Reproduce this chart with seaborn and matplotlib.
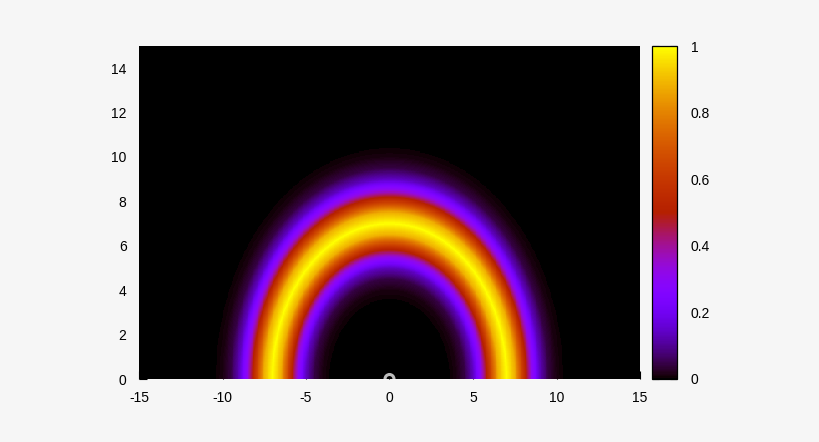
import numpy as np
import pandas as pd
import seaborn as sns
import matplotlib.pyplot as plt

# plot window
x_min, x_max = -15, 15
y_min, y_max = 0, 15
x_ticks = [-15, -10, -5, 0, 5, 10, 15]
y_ticks = [0, 2, 4, 6, 8, 10, 12, 14]
cbar_ticks = [0, 0.2, 0.4, 0.6, 0.8, 1]
cbar_labels = ['0', '0.2', '0.4', '0.6', '0.8', '1']

# radial intensity profile (distance from origin -> value)
ring_radius = [0.0, 3.5, 4.0, 4.5, 5.0, 5.5, 6.0, 6.5, 7.0, 7.5, 8.0, 8.5, 9.0, 9.5, 10.0, 10.5, 15.0]
ring_value = [0.0, 0.002, 0.011, 0.044, 0.135, 0.325, 0.607, 0.882, 1.0,
              0.882, 0.607, 0.325, 0.135, 0.044, 0.011, 0.002, 0.0]

# source point
source_x = [0]
source_y = [0]

# --- build the grid ---
step = 0.05
xs = np.arange(x_min + step / 2, x_max, step)
ys = np.arange(y_max - step / 2, y_min, -step)
gx, gy = np.meshgrid(xs, ys)
field = np.interp(np.hypot(gx, gy), ring_radius, ring_value)
df = pd.DataFrame(field, index=ys, columns=xs)


def to_col(v):
    return (np.asarray(v, dtype=float) - x_min) / step


def to_row(v):
    return (y_max - np.asarray(v, dtype=float)) / step


sns.set_theme(style='white')
plt.rcParams['font.family'] = ['Liberation Sans', 'DejaVu Sans']

W, H = 820, 442
fig = plt.figure(figsize=(W / 100, H / 100), dpi=100, facecolor='#f6f6f6')
ax = fig.add_axes([139 / W, 1 - 379 / H, 501 / W, 333 / H])
cax = fig.add_axes([652 / W, 1 - 379 / H, 25 / W, 333 / H])

sns.heatmap(df, ax=ax, cbar_ax=cax, cmap='gnuplot', vmin=0, vmax=1,
            xticklabels=False, yticklabels=False, rasterized=True)

ax.scatter(to_col(source_x), to_row(source_y), s=42, facecolors='none',
           edgecolors='#bdbdbd', linewidths=2.2, zorder=5, clip_on=True)

ax.set_xlim(to_col(x_min), to_col(x_max))
ax.set_ylim(to_row(y_min), to_row(y_max))
ax.set_xticks(to_col(x_ticks))
ax.set_xticklabels([str(t) for t in x_ticks])
ax.set_yticks(to_row(y_ticks))
ax.set_yticklabels([str(t) for t in y_ticks], rotation=0)
ax.tick_params(axis='both', direction='in', length=6, width=0.8, color='black',
               bottom=True, left=True, top=False, right=False, labelsize=10,
               labelcolor='black')
ax.tick_params(axis='x', pad=9)
ax.tick_params(axis='y', pad=9)
ax.set_xlabel('')
ax.set_ylabel('')

cbar = ax.collections[0].colorbar
cbar.outline.set_edgecolor('black')
cbar.outline.set_linewidth(0.9)
cbar.set_ticks(cbar_ticks)
cbar.set_ticklabels(cbar_labels)
cax.tick_params(direction='in', length=5, width=0.8, color='black',
                left=True, right=True, labelsize=10, labelcolor='black', pad=10)

fig.savefig('out.png', dpi=100, facecolor=fig.get_facecolor())
